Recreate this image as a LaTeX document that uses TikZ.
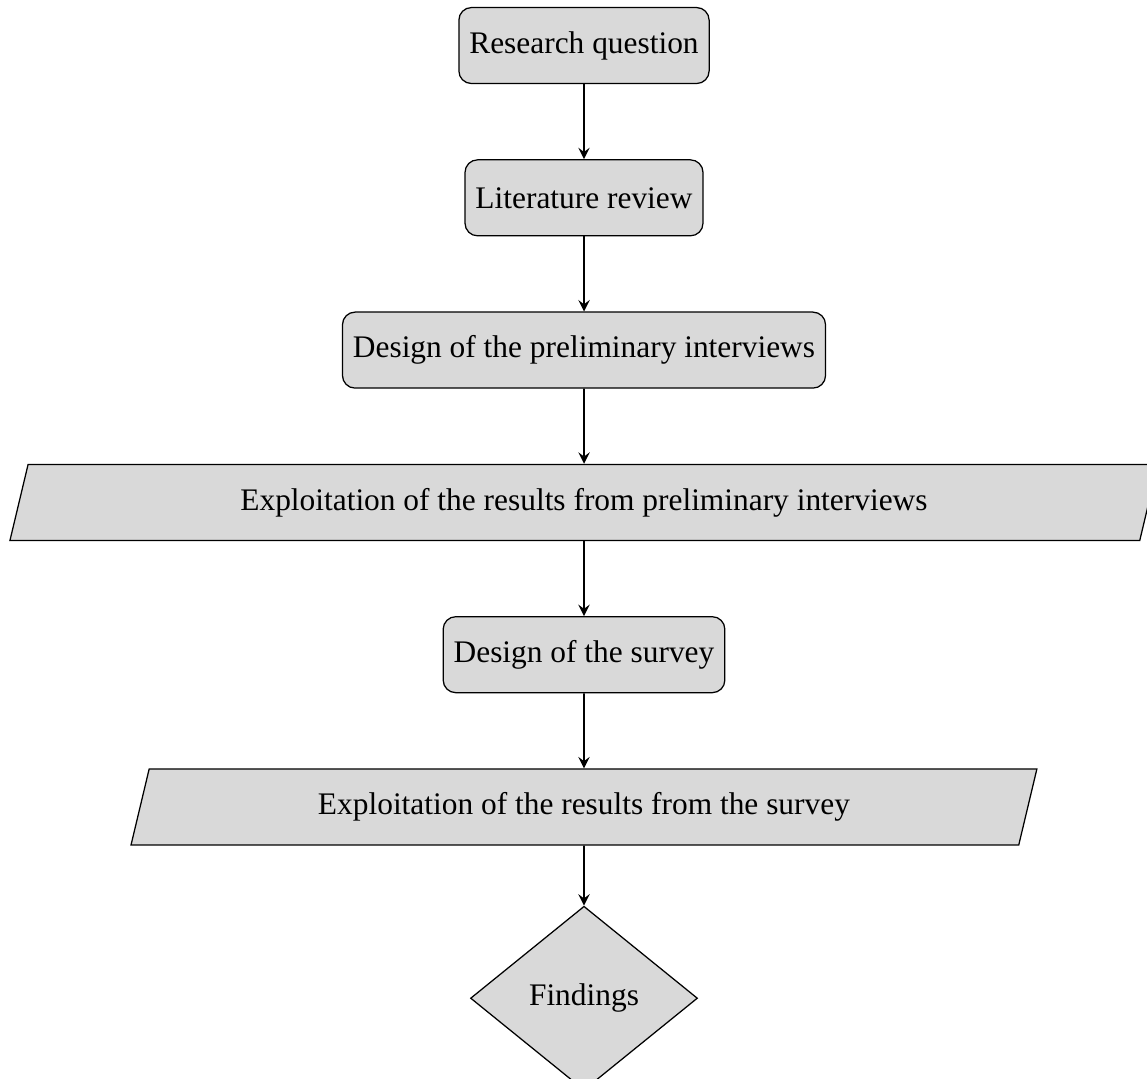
\documentclass[tikz,border=0pt]{standalone}
\usepackage{fontspec}
\setmainfont{Liberation Serif}
\usetikzlibrary{positioning,shapes.geometric}

\begin{document}
\begin{tikzpicture}[node distance=23.9pt]
            \tikzstyle{process} = [rectangle, rounded corners, draw, fill=gray!30, minimum height=24.2pt]
            \tikzstyle{io} = [trapezium, trapezium left angle=70, trapezium right angle=110,
                trapezium stretches body=true, draw, fill=gray!30, minimum height=24.2pt]
            \tikzstyle{decision} = [diamond, draw, fill=gray!30, minimum width=72.3pt, minimum height=58.6pt]
            \tikzstyle{flowline} = [-stealth, semithick]
            \useasboundingbox (-186pt, 14.5pt) rectangle (179.3pt, -329.1pt);

            \node[process] (question) at (0, 0) {Research question};
            \node[process, below=of question] (litreview) {Literature review};
            \node[process, below=of litreview] (designint) {Design of the preliminary interviews};
            \node[io, below=of designint, minimum width=365.6pt] (exploitint)
                {Exploitation of the results from preliminary interviews};
            \node[process, below=of exploitint] (designsurvey) {Design of the survey};
            \node[io, below=of designsurvey, minimum width=288.5pt] (exploitsurvey)
                {Exploitation of the results from the survey};
            \node[decision, below=19.1pt of exploitsurvey] (findings) {Findings};

            \draw[flowline] (question) -- (litreview);
            \draw[flowline] (litreview) -- (designint);
            \draw[flowline] (designint) -- (exploitint);
            \draw[flowline] (exploitint) -- (designsurvey);
            \draw[flowline] (designsurvey) -- (exploitsurvey);
            \draw[flowline] (exploitsurvey) -- (findings);
        \end{tikzpicture}
\end{document}
